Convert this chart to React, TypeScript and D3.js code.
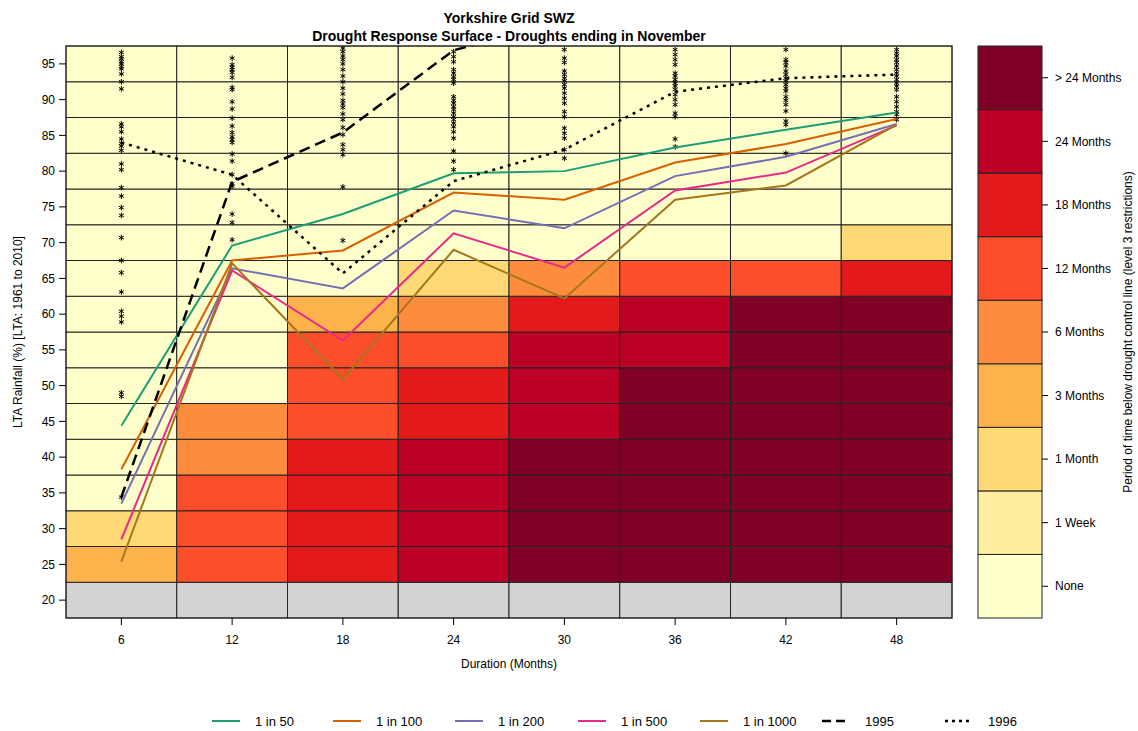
import React from "react";
import * as d3 from "d3";

// ---------- data ----------
const durations = [6, 12, 18, 24, 30, 36, 42, 48];
const rainfallRows = [20, 25, 30, 35, 40, 45, 50, 55, 60, 65, 70, 75, 80, 85, 90, 95];
const yTicks = [20, 25, 30, 35, 40, 45, 50, 55, 60, 65, 70, 75, 80, 85, 90, 95];

const levelLabels = ["None", "1 Week", "1 Month", "3 Months", "6 Months", "12 Months", "18 Months", "24 Months", "> 24 Months"];
const levelColors = ["#FFFFCC", "#FFEDA0", "#FED976", "#FEB24C", "#FD8D3C", "#FC4E2A", "#E31A1C", "#BD0026", "#800026"];
const noDataColor = "#D3D3D3";

// severity level per duration column, rows 20..95 (-1 = no data)
const severity6 = [-1, 3, 2, 0, 0, 0, 0, 0, 0, 0, 0, 0, 0, 0, 0, 0];
const severity12 = [-1, 5, 5, 5, 4, 4, 0, 0, 0, 0, 0, 0, 0, 0, 0, 0];
const severity18 = [-1, 6, 6, 6, 6, 5, 5, 5, 3, 0, 0, 0, 0, 0, 0, 0];
const severity24 = [-1, 7, 7, 7, 7, 6, 6, 5, 4, 2, 0, 0, 0, 0, 0, 0];
const severity30 = [-1, 8, 8, 8, 8, 7, 7, 7, 6, 4, 0, 0, 0, 0, 0, 0];
const severity36 = [-1, 8, 8, 8, 8, 8, 8, 7, 7, 5, 0, 0, 0, 0, 0, 0];
const severity42 = [-1, 8, 8, 8, 8, 8, 8, 8, 8, 5, 0, 0, 0, 0, 0, 0];
const severity48 = [-1, 8, 8, 8, 8, 8, 8, 8, 8, 6, 2, 0, 0, 0, 0, 0];
const severityColumns = [severity6, severity12, severity18, severity24, severity30, severity36, severity42, severity48];

// return-period curves (LTA %) at each duration
const rp50 = [44.4, 69.6, 74.0, 79.7, 80.0, 83.3, 85.8, 88.2];
const rp100 = [38.3, 67.5, 68.9, 77.0, 76.0, 81.2, 83.8, 87.3];
const rp200 = [33.5, 66.4, 63.6, 74.5, 72.0, 79.3, 82.0, 86.6];
const rp500 = [28.5, 66.1, 56.3, 71.3, 66.5, 77.3, 79.8, 86.4];
const rp1000 = [25.4, 67.1, 50.9, 69.0, 62.2, 76.0, 78.0, 86.5];
const drought1995 = [34.4, 78.5, 85.4, 96.9, 101.0, 103.0, 104.0, 105.0];
const drought1996 = [84.0, 79.5, 65.7, 78.6, 83.0, 91.1, 93.0, 93.5];

// historical events (stars) per duration
const stars6 = [96.6, 96.0, 95.7, 95.3, 95.0, 94.6, 94.3, 93.6, 92.5, 91.5, 86.6, 86.2, 85.5, 84.5, 83.9, 83.5, 82.9, 81.0, 80.2, 77.7, 76.5, 74.9, 73.8, 70.7, 67.5, 65.8, 63.1, 60.4, 59.7, 58.9, 49.0, 48.5, 34.4];
const stars12 = [95.8, 94.9, 94.5, 94.2, 93.8, 93.1, 91.7, 91.4, 89.7, 88.7, 87.4, 86.3, 85.4, 84.8, 84.4, 84.0, 82.4, 81.4, 79.5, 78.2, 77.9, 74.0, 72.8, 70.4];
const stars18 = [97.2, 96.7, 96.1, 95.6, 95.0, 94.2, 93.3, 92.5, 91.6, 90.8, 89.9, 89.4, 88.9, 88.0, 87.2, 86.1, 85.1, 83.7, 83.0, 82.3, 77.8, 70.3];
const stars24 = [96.7, 96.0, 95.3, 94.2, 93.7, 93.2, 92.8, 92.3, 90.4, 89.9, 89.5, 89.0, 88.6, 88.1, 87.6, 87.2, 86.7, 86.2, 85.5, 84.6, 82.8, 81.4, 80.2];
const stars30 = [97.0, 95.8, 95.2, 94.0, 93.5, 93.0, 92.6, 92.1, 91.6, 90.9, 90.2, 89.5, 88.3, 87.6, 86.0, 85.3, 84.6, 83.0, 81.8];
const stars36 = [97.0, 96.3, 95.6, 94.9, 93.7, 93.3, 92.8, 92.3, 91.9, 91.4, 90.7, 90.0, 89.3, 88.1, 87.6, 84.5, 83.4];
const stars42 = [97.0, 95.6, 95.2, 94.7, 94.0, 93.5, 93.0, 92.6, 92.1, 91.6, 91.2, 90.4, 89.9, 89.3, 88.4, 87.0, 86.5, 82.5];
const stars48 = [97.0, 96.5, 96.1, 95.6, 95.2, 94.7, 94.2, 93.7, 93.3, 92.8, 92.3, 91.9, 91.4, 90.4, 89.7, 89.0, 88.3, 87.9, 87.2];
const starColumns = [stars6, stars12, stars18, stars24, stars30, stars36, stars42, stars48];

const seriesNames = ["1 in 50", "1 in 100", "1 in 200", "1 in 500", "1 in 1000", "1995", "1996"];
const seriesValues = [rp50, rp100, rp200, rp500, rp1000, drought1995, drought1996];
const seriesColors = ["#1B9E77", "#D95F02", "#7570B3", "#E7298A", "#A6761D", "#000000", "#000000"];
const seriesDash = ["", "", "", "", "", "11,6", "3,5"];
const seriesWidth = [2, 2, 2, 2, 2, 2.5, 2.5];

// ---------- layout ----------
const W = 1138, H = 731;
const PX0 = 66, PX1 = 952, PY0 = 46, PY1 = 618;
const CB_X0 = 978, CB_X1 = 1042;
const FONT = "'Liberation Sans', Arial, Helvetica, sans-serif";

export default function App() {
  const x = d3.scaleLinear().domain([3, 51]).range([PX0, PX1]);
  const y = d3.scaleLinear().domain([17.5, 97.5]).range([PY1, PY0]);
  const cb = d3.scaleBand<number>().domain(d3.range(levelLabels.length)).range([PY1, PY0]).padding(0);

  const line = d3.line<[number, number]>().x((d) => x(d[0])).y((d) => y(d[1]));
  const star = d3.symbol().type(d3.symbolAsterisk).size(22)();

  const cells: React.ReactNode[] = [];
  severityColumns.forEach((col, ci) => {
    const dur = durations[ci];
    col.forEach((lvl, ri) => {
      const r = rainfallRows[ri];
      const x0 = x(dur - 3), x1 = x(dur + 3);
      const y0 = y(r + 2.5), y1 = y(r - 2.5);
      cells.push(
        <rect key={`c${ci}-${ri}`} x={x0} y={y0} width={x1 - x0} height={y1 - y0}
          fill={lvl < 0 ? noDataColor : levelColors[lvl]} stroke="#222" strokeWidth={1} />
      );
    });
  });

  const legendLineX = [212, 333, 455, 578, 700, 822, 945];
  const legendY = 721;

  return (
    <svg width={W} height={H} style={{ display: "block", position: "absolute", left: 0, top: 0, background: "#fff" }} fontFamily={FONT}>
      <defs>
        <clipPath id="plotclip">
          <rect x={PX0} y={PY0} width={PX1 - PX0} height={PY1 - PY0} />
        </clipPath>
      </defs>
      {/* titles */}
      <text x={509} y={23} textAnchor="middle" fontSize={14} fontWeight="bold">Yorkshire Grid SWZ</text>
      <text x={509} y={41} textAnchor="middle" fontSize={14} fontWeight="bold">Drought Response Surface - Droughts ending in November</text>

      {cells}

      <g clipPath="url(#plotclip)">
        {starColumns.map((vals, ci) =>
          vals.map((v, i) => (
            <path key={`s${ci}-${i}`} d={star} transform={`translate(${x(durations[ci])},${y(v)})`}
              fill="none" stroke="#000" strokeWidth={1} />
          ))
        )}
        {seriesValues.map((vals, si) => (
          <path key={`l${si}`} d={line(durations.map((d, i) => [d, vals[i]] as [number, number])) || ""}
            fill="none" stroke={seriesColors[si]} strokeWidth={seriesWidth[si]}
            strokeDasharray={seriesDash[si] || undefined} />
        ))}
      </g>
      <rect x={PX0} y={PY0} width={PX1 - PX0} height={PY1 - PY0} fill="none" stroke="#222" strokeWidth={1} />

      {/* y axis */}
      {yTicks.map((t) => (
        <g key={`yt${t}`}>
          <line x1={PX0 - 7} x2={PX0} y1={y(t)} y2={y(t)} stroke="#000" />
          <text x={PX0 - 11} y={y(t)} dy="0.35em" textAnchor="end" fontSize={12}>{t}</text>
        </g>
      ))}
      <text transform={`translate(22,${(PY0 + PY1) / 2}) rotate(-90)`} textAnchor="middle" fontSize={12}>
        LTA Rainfall (%) [LTA: 1961 to 2010]
      </text>

      {/* x axis */}
      {durations.map((d) => (
        <g key={`xt${d}`}>
          <line x1={x(d)} x2={x(d)} y1={PY1} y2={PY1 + 7} stroke="#000" />
          <text x={x(d)} y={PY1 + 26} textAnchor="middle" fontSize={12}>{d}</text>
        </g>
      ))}
      <text x={(PX0 + PX1) / 2} y={668} textAnchor="middle" fontSize={12}>Duration (Months)</text>

      {/* colour bar */}
      {levelLabels.map((lab, i) => {
        const yy = cb(i) as number;
        const h = cb.bandwidth();
        return (
          <g key={`cb${i}`}>
            <rect x={CB_X0} y={yy} width={CB_X1 - CB_X0} height={h} fill={levelColors[i]} stroke="#222" strokeWidth={1} />
            <line x1={CB_X1} x2={CB_X1 + 6} y1={yy + h / 2} y2={yy + h / 2} stroke="#000" />
            <text x={CB_X1 + 13} y={yy + h / 2} dy="0.35em" fontSize={12}>{lab}</text>
          </g>
        );
      })}
      <text transform={`translate(1132,${(PY0 + PY1) / 2}) rotate(-90)`} textAnchor="middle" fontSize={12}>
        Period of time below drought control line (level 3 restrictions)
      </text>

      {/* legend */}
      {seriesNames.map((name, i) => (
        <g key={`lg${i}`}>
          <line x1={legendLineX[i]} x2={legendLineX[i] + 28} y1={legendY} y2={legendY}
            stroke={seriesColors[i]} strokeWidth={seriesWidth[i]} strokeDasharray={seriesDash[i] ? (i === 5 ? "9,5" : "3,4") : undefined} />
          <text x={legendLineX[i] + 43} y={legendY} dy="0.35em" fontSize={13}>{name}</text>
        </g>
      ))}
    </svg>
  );
}
